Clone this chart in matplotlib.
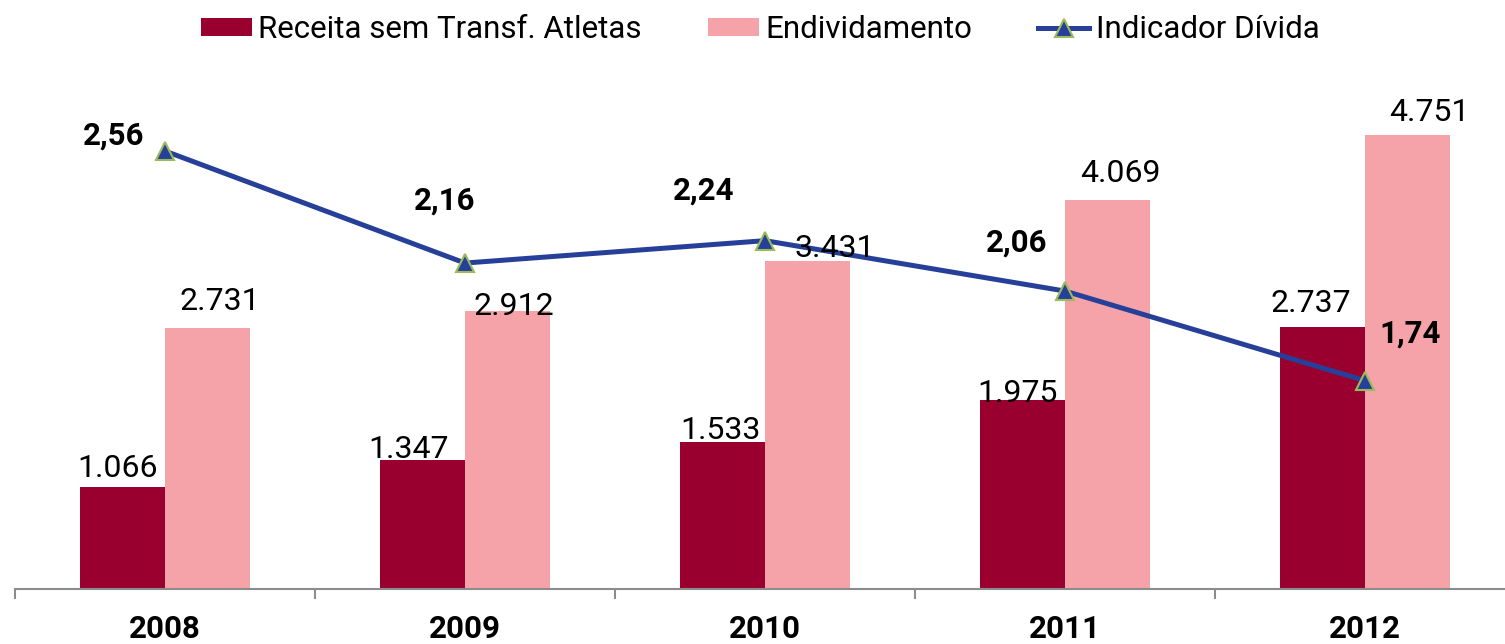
import matplotlib.pyplot as plt
from matplotlib.patches import Patch
from matplotlib.lines import Line2D
import numpy as np

plt.rcParams['font.family'] = ['Roboto', 'DejaVu Sans']

# Data
years = ['2008', '2009', '2010', '2011', '2012']
receita = [1066, 1347, 1533, 1975, 2737]
endividamento = [2731, 2912, 3431, 4069, 4751]
indicador = [2.56, 2.16, 2.24, 2.06, 1.74]

# Label offsets (pixels, relative to bar top / marker)
receita_offsets = [(-5, 21), (-14, 13), (-2, 14), (-5, 9), (-12, 26)]
endiv_offsets = [(12, 29), (6, 7), (27, 15), (13, 29), (22, 25)]
indic_offsets = [(-51, 17), (-20, 64), (-61, 52), (-48, 50), (45, 49)]

DARK = '#990030'
PINK = '#F5A3A9'
BLUE = '#26409A'
GREEN = '#9BBB59'

fig = plt.figure(figsize=(15.05, 6.44), dpi=100)
ax = fig.add_axes([15 / 1505, 55 / 644, 1500 / 1505, 478 / 644])

x = np.arange(len(years))
w = 85 / 300

ax.bar(x - w / 2, receita, width=w, color=DARK, zorder=2)
ax.bar(x + w / 2, endividamento, width=w, color=PINK, zorder=2)
ax.set_xlim(-0.5, len(years) - 0.5)
ax.set_ylim(0, 5000)
ax.set_yticks([])

# Axis styling
for side in ['left', 'right', 'top']:
    ax.spines[side].set_visible(False)
ax.spines['bottom'].set_color('#8c8c8c')
ax.spines['bottom'].set_linewidth(1.5)
ax.set_xticks(x)
ax.set_xticklabels(years, fontsize=22.5, fontweight='bold')
ax.set_xticks(np.arange(-0.5, len(years)), minor=True)
ax.tick_params(axis='x', which='major', length=0, pad=18)
ax.tick_params(axis='x', which='minor', length=7.5, width=1.5, color='#8c8c8c', direction='out')

# Secondary axis for the indicator line
ax2 = ax.twinx()
ax2.set_ylim(0.996, 2.703)
ax2.set_yticks([])
for side in ['left', 'right', 'top', 'bottom']:
    ax2.spines[side].set_visible(False)
ax2.plot(x, indicador, color=BLUE, linewidth=3.6, marker='^', markersize=13,
         markerfacecolor=BLUE, markeredgecolor=GREEN, markeredgewidth=1.5, zorder=3)

# Bar value labels
for i in range(len(years)):
    dx, dy = receita_offsets[i]
    ax2.annotate(f'{receita[i]:,}'.replace(',', '.'), (x[i] - w / 2, receita[i]),
                 xycoords=ax.transData, xytext=(dx, dy - 11), textcoords='offset pixels',
                 ha='center', va='baseline', fontsize=23, zorder=5)
    dx, dy = endiv_offsets[i]
    ax2.annotate(f'{endividamento[i]:,}'.replace(',', '.'), (x[i] + w / 2, endividamento[i]),
                 xycoords=ax.transData, xytext=(dx, dy - 11), textcoords='offset pixels',
                 ha='center', va='baseline', fontsize=23, zorder=5)
    dx, dy = indic_offsets[i]
    ax2.annotate(f'{indicador[i]:.2f}'.replace('.', ','), (x[i], indicador[i]),
                 xytext=(dx, dy - 11), textcoords='offset pixels',
                 ha='center', va='baseline', fontsize=22.5, fontweight='bold', zorder=5)

# Legend
handles = [
    Patch(facecolor=DARK, edgecolor='none'),
    Patch(facecolor=PINK, edgecolor='none'),
    Line2D([0], [0], color=BLUE, linewidth=3.6, marker='^', markersize=13,
           markerfacecolor=BLUE, markeredgecolor=GREEN, markeredgewidth=1.5),
]
labels = ['Receita sem Transf. Atletas', 'Endividamento', 'Indicador Dívida']
fig.legend(handles, labels, loc='upper center', bbox_to_anchor=(760 / 1505, 1.02),
           ncol=3, frameon=False, fontsize=22.5, handlelength=1.65, handleheight=0.5,
           handletextpad=0.2, columnspacing=2.1)

fig.savefig('out.png', dpi=100)
